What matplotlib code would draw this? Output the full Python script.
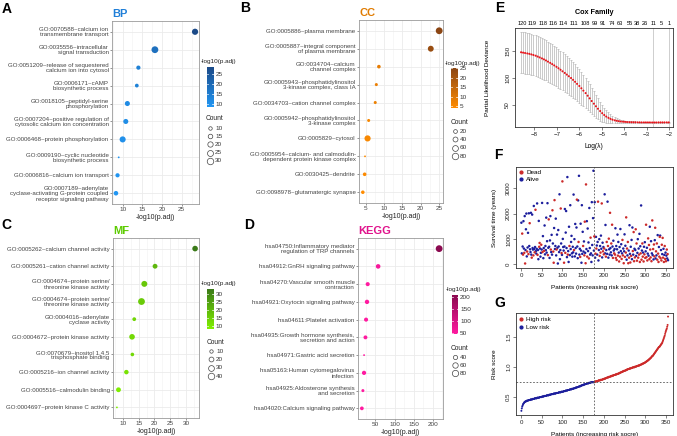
import numpy as np
import matplotlib
matplotlib.use("Agg")
import matplotlib.pyplot as plt
from matplotlib.colors import LinearSegmentedColormap, Normalize
from matplotlib.colorbar import ColorbarBase
from matplotlib.lines import Line2D

plt.rcParams['font.family'] = ['Liberation Sans', 'DejaVu Sans']

W, H = 677, 436

# ---------------- enrichment dot plots ----------------
bp_terms = [
    "GO:0070588~calcium ion\ntransmembrane transport",
    "GO:0035556~intracellular\nsignal transduction",
    "GO:0051209~release of sequestered\ncalcium ion into cytosol",
    "GO:0006171~cAMP\nbiosynthetic process",
    "GO:0018105~peptidyl-serine\nphosphorylation",
    "GO:0007204~positive regulation of\ncytosolic calcium ion concentration",
    "GO:0006468~protein phosphorylation",
    "GO:0009190~cyclic nucleotide\nbiosynthetic process",
    "GO:0006816~calcium ion transport",
    "GO:0007189~adenylate\ncyclase-activating G-protein coupled\nreceptor signaling pathway",
]
bp_logp = [28.4, 18.2, 14.0, 13.6, 11.2, 10.8, 10.0, 9.0, 8.7, 8.3]
bp_count = [27, 33, 13, 11, 18, 18, 26, 7, 13, 15]

cc_terms = [
    "GO:0005886~plasma membrane",
    "GO:0005887~integral component\nof plasma membrane",
    "GO:0034704~calcium\nchannel complex",
    "GO:0005943~phosphatidylinositol\n3-kinase complex, class IA",
    "GO:0034703~cation channel complex",
    "GO:0005942~phosphatidylinositol\n3-kinase complex",
    "GO:0005829~cytosol",
    "GO:0005954~calcium- and calmodulin-\ndependent protein kinase complex",
    "GO:0030425~dendrite",
    "GO:0098978~glutamatergic synapse",
]
cc_logp = [25.1, 22.8, 8.6, 7.9, 7.6, 5.8, 5.5, 4.8, 4.7, 4.2]
cc_count = [90, 62, 18, 12, 12, 12, 70, 7, 18, 17]

mf_terms = [
    "GO:0005262~calcium channel activity",
    "GO:0005261~cation channel activity",
    "GO:0004674~protein serine/\nthreonine kinase activity",
    "GO:0004674~protein serine/\nthreonine kinase activity",
    "GO:0004016~adenylate\ncyclase activity",
    "GO:0004672~protein kinase activity",
    "GO:0070679~inositol 1,4,5\ntrisphosphate binding",
    "GO:0005216~ion channel activity",
    "GO:0005516~calmodulin binding",
    "GO:0004697~protein kinase C activity",
]
mf_logp = [32.9, 20.2, 16.8, 15.9, 13.6, 12.9, 13.0, 11.1, 8.6, 8.1]
mf_count = [28, 20, 32, 44, 12, 28, 11, 17, 20, 6]

kegg_terms = [
    "hsa04750:Inflammatory mediator\nregulation of TRP channels",
    "hsa04912:GnRH signaling pathway",
    "hsa04270:Vascular smooth muscle\ncontraction",
    "hsa04921:Oxytocin signaling pathway",
    "hsa04611:Platelet activation",
    "hsa04935:Growth hormone synthesis,\nsecretion and action",
    "hsa04971:Gastric acid secretion",
    "hsa05163:Human cytomegalovirus\ninfection",
    "hsa04925:Aldosterone synthesis\nand secretion",
    "hsa04020:Calcium signaling pathway",
]
kegg_logp = [217, 57, 29.6, 27.8, 25.3, 23.7, 20.1, 20.0, 17.0, 14.3]
kegg_count = [92, 45, 38, 42, 38, 36, 24, 40, 28, 34]

# ---------------- LASSO cv curve ----------------
log_lambda = [-8.60, -8.51, -8.42, -8.32, -8.23, -8.14, -8.05, -7.95, -7.86, -7.77,
              -7.67, -7.58, -7.49, -7.40, -7.30, -7.21, -7.12, -7.02, -6.93, -6.84,
              -6.75, -6.65, -6.56, -6.47, -6.37, -6.28, -6.19, -6.10, -6.00, -5.91,
              -5.82, -5.72, -5.63, -5.54, -5.45, -5.35, -5.26, -5.17, -5.07, -4.98,
              -4.89, -4.80, -4.70, -4.61, -4.52, -4.42, -4.33, -4.24, -4.15, -4.05,
              -3.96, -3.87, -3.77, -3.68, -3.59, -3.50, -3.40, -3.31, -3.22, -3.12,
              -3.03, -2.94, -2.85, -2.75, -2.66, -2.57, -2.47, -2.38, -2.29, -2.20,
              -2.10, -2.01]
cv_dev = [147.0, 146.3, 145.6, 144.8, 144.0, 143.0, 141.9, 140.6, 139.0, 137.4,
          135.6, 133.8, 131.8, 129.6, 127.3, 125.0, 122.6, 120.0, 117.3, 114.5,
          111.6, 108.6, 105.6, 102.5, 99.2, 95.8, 92.2, 88.4, 84.4, 80.2,
          75.8, 71.2, 66.4, 61.5, 56.5, 51.6, 46.8, 42.2, 37.9, 34.0,
          30.6, 27.7, 25.3, 23.4, 21.9, 20.7, 19.8, 19.1, 18.5, 18.1,
          17.8, 17.5, 17.3, 17.2, 17.1, 17.0, 16.9, 16.9, 16.8, 16.8,
          16.8, 16.8, 16.8, 16.7, 16.7, 16.7, 16.8, 16.8, 16.8, 16.8,
          16.8, 16.8]
cv_se = [38.5, 38.4, 38.3, 38.2, 38.1, 38.0, 37.9, 37.8, 37.7, 37.6,
         37.5, 37.4, 37.2, 37.0, 36.8, 36.6, 36.4, 36.1, 35.8, 35.5,
         35.2, 34.8, 34.4, 34.0, 33.5, 33.0, 32.4, 31.8, 31.1, 30.3,
         29.4, 28.4, 27.3, 26.0, 24.6, 23.0, 21.3, 19.5, 17.6, 15.7,
         13.8, 11.9, 10.1, 8.5, 7.0, 5.7, 4.6, 3.8, 3.1, 2.6,
         2.3, 2.1, 1.9, 1.8, 1.7, 1.7, 1.6, 1.6, 1.6, 1.6,
         1.6, 1.6, 1.6, 1.6, 1.6, 1.6, 1.6, 1.6, 1.6, 1.6,
         1.6, 1.6]
nzero_pos = [-8.56, -8.10, -7.63, -7.16, -6.70, -6.22, -5.73, -5.29, -4.96,
             -4.56, -4.18, -3.76, -3.42, -3.07, -2.70, -2.33, -2.00]
nzero_lab = ["120", "119", "118", "116", "114", "111", "108", "99", "91",
             "74", "63", "55", "38", "26", "11", "5", "1"]
lambda_lines = [-2.70, -2.00]

# ---------------- survival status ----------------
surv_time = [
    1640, 430, 1210, 700, 380, 1700, 620, 450, 1900, 30, 560, 1380, 2000, 310, 500, 660, 1240, 400, 2010, 720, 1620, 590, 480, 2030, 380,
    260, 1960, 640, 580, 350, 2300, 600, 470, 680, 2150, 520, 420, 610, 2400, 370, 560, 200, 1710, 690, 840, 620, 300, 450, 770, 580,
    2420, 480, 1110, 240, 640, 530, 1530, 390, 720, 560, 1840, 460, 910, 2410, 360, 650, 1770, 690, 250, 940, 1900, 580, 480, 1160, 380,
    2130, 820, 500, 60, 1430, 2530, 600, 720, 1800, 350, 580, 1170, 650, 30, 1350, 700, 480, 2760, 200, 560, 2200, 820, 440, 370, 3270,
    1000, 680, 540, 60, 700, 2180, 450, 1250, 2100, 640, 280, 3440, 380, 520, 90, 1480, 720, 360, 2330, 600, 880, 1120, 430, 300, 690,
    470, 2750, 560, 990, 310, 1590, 640, 420, 1450, 2550, 700, 240, 2520, 880, 3490, 380, 610, 290, 1600, 540, 60, 2330, 410, 1280, 720,
    500, 900, 350, 1680, 450, 40, 3150, 600, 1700, 300, 1410, 520, 860, 230, 2220, 640, 380, 1050, 430, 90, 2450, 760, 350, 1820, 3690,
    540, 1100, 2450, 260, 420, 1080, 620, 740, 380, 880, 2470, 150, 560, 990, 330, 720, 460, 1130, 610, 2400, 270, 850, 510, 680, 390,
    620, 2760, 430, 1550, 300, 560, 880, 410, 2470, 720, 260, 1010, 590, 380, 2030, 640, 470, 820, 350, 1560, 700, 250, 930, 540, 430,
    600, 380, 1420, 250, 720, 170, 590, 1170, 340, 880, 460, 110, 680, 300, 1390, 520, 790, 210, 430, 960, 350, 620, 40, 510, 1180,
    290, 730, 460, 1850, 180, 620, 350, 880, 40, 540, 260, 1540, 410, 70, 690, 330, 960, 200, 1450, 520, 380, 1270, 120, 610, 270,
    560, 1380, 330, 820, 140, 450, 990, 260, 620, 380, 1200, 90, 710, 430, 2320, 180, 540, 820, 300, 460, 110, 690, 390, 870, 250,
    510, 1560, 280, 650, 150, 420, 1020, 340, 760, 200, 1480, 580, 270, 910, 120, 430, 1730, 360, 600, 190, 780, 310, 950, 1440, 230,
    510, 350, 820, 180, 1150, 420, 90, 680, 300, 1080, 1130, 240, 560, 150, 770, 400, 1040, 260, 610, 90, 370, 720, 210, 460, 120,
    340, 580, 230, 400, 160,
]
surv_status = (
    "AADADAADADAAAADAADAADAAAA" "DAAADAADADAAAADAAADDAAADA" "ADAAADAAAAAAAADADAAAADAAA"
    "DADDADAAAADAAAAAAAAADADAD" "AAADAADAAAAADAAADAAAAAAAA" "AADAAAAAADAAADAAADAAAAAAD"
    "AADDADDAADAAADAAADAAAAAAA" "ADAADADAAADAAADADAADAADAD" "DAAADADAADADAADAADADADAAD"
    "ADADADAADAADADAAADADDADAA" "DADDADADDADAADADAAADADDAD" "ADADDAADADADADADADDADADAD"
    "ADDADADADDADDADADADADDADA" "DADDADDADDADADDADDADADDAD" "ADADA"
)

# ---------------- risk score ----------------
risk_score = [
    0.26, 0.30, 0.33, 0.35, 0.37, 0.38, 0.39, 0.40, 0.41, 0.41,
    0.42, 0.42, 0.42, 0.43, 0.43, 0.43, 0.43, 0.44, 0.44, 0.44,
    0.44, 0.44, 0.45, 0.45, 0.45, 0.45, 0.45, 0.46, 0.46, 0.46,
    0.46, 0.46, 0.47, 0.47, 0.47, 0.47, 0.47, 0.47, 0.48, 0.48,
    0.48, 0.48, 0.48, 0.48, 0.49, 0.49, 0.49, 0.49, 0.49, 0.49,
    0.50, 0.50, 0.50, 0.50, 0.50, 0.51, 0.51, 0.51, 0.51, 0.51,
    0.51, 0.52, 0.52, 0.52, 0.52, 0.52, 0.52, 0.53, 0.53, 0.53,
    0.53, 0.53, 0.54, 0.54, 0.54, 0.54, 0.54, 0.54, 0.55, 0.55,
    0.55, 0.55, 0.55, 0.55, 0.56, 0.56, 0.56, 0.56, 0.56, 0.56,
    0.57, 0.57, 0.57, 0.57, 0.57, 0.57, 0.58, 0.58, 0.58, 0.58,
    0.58, 0.58, 0.59, 0.59, 0.59, 0.59, 0.59, 0.60, 0.60, 0.60,
    0.60, 0.60, 0.61, 0.61, 0.61, 0.61, 0.61, 0.62, 0.62, 0.62,
    0.62, 0.62, 0.63, 0.63, 0.63, 0.63, 0.63, 0.64, 0.64, 0.64,
    0.64, 0.65, 0.65, 0.65, 0.65, 0.66, 0.66, 0.66, 0.66, 0.67,
    0.67, 0.67, 0.67, 0.68, 0.68, 0.68, 0.69, 0.69, 0.69, 0.69,
    0.70, 0.70, 0.70, 0.70, 0.71, 0.71, 0.71, 0.71, 0.72, 0.72,
    0.72, 0.72, 0.72, 0.73, 0.73, 0.73, 0.73, 0.73, 0.74, 0.74,
    0.74, 0.74, 0.74, 0.74, 0.74, 0.74, 0.74,
    0.75, 0.75, 0.75, 0.75, 0.76, 0.76, 0.76, 0.76, 0.76, 0.77, 0.77, 0.77, 0.77,
    0.77, 0.78, 0.78, 0.78, 0.78, 0.78, 0.79, 0.79, 0.79, 0.79,
    0.80, 0.80, 0.80, 0.80, 0.81, 0.81, 0.81, 0.82, 0.82, 0.82,
    0.82, 0.83, 0.83, 0.83, 0.83, 0.84, 0.84, 0.84, 0.84, 0.85,
    0.85, 0.85, 0.85, 0.86, 0.86, 0.86, 0.86, 0.87, 0.87, 0.87,
    0.87, 0.88, 0.88, 0.88, 0.88, 0.89, 0.89, 0.89, 0.90, 0.90,
    0.90, 0.91, 0.91, 0.91, 0.92, 0.92, 0.92, 0.93, 0.93, 0.93,
    0.93, 0.94, 0.94, 0.94, 0.95, 0.95, 0.95, 0.96, 0.96, 0.96,
    0.96, 0.97, 0.97, 0.97, 0.97, 0.98, 0.98, 0.98, 0.98, 0.99,
    0.99, 0.99, 0.99, 0.99, 1.00, 1.00, 1.00, 1.00, 1.01, 1.01,
    1.01, 1.01, 1.02, 1.02, 1.02, 1.02, 1.03, 1.03, 1.03, 1.04,
    1.04, 1.04, 1.05, 1.05, 1.05, 1.06, 1.06, 1.06, 1.07, 1.07,
    1.08, 1.08, 1.09, 1.09, 1.10, 1.10, 1.11, 1.11, 1.12, 1.13,
    1.13, 1.14, 1.15, 1.15, 1.16, 1.17, 1.18, 1.18, 1.19, 1.20,
    1.21, 1.22, 1.23, 1.24, 1.25, 1.26, 1.27, 1.28, 1.29, 1.30,
    1.31, 1.32, 1.33, 1.33, 1.34, 1.35, 1.36, 1.37, 1.38, 1.39,
    1.40, 1.42, 1.44, 1.46, 1.48, 1.50, 1.52, 1.55, 1.58, 1.60,
    1.62, 1.64, 1.67, 1.70, 1.84,
]
n_low = 177
risk_cut = 0.745

RED = "#CC2A2A"
BLUE = "#1C1E9C"

fig = plt.figure(figsize=(W / 100, H / 100), dpi=100)


def rect(x0, y0, x1, y1):
    return [x0 / W, 1 - y1 / H, (x1 - x0) / W, (y1 - y0) / H]


def ftext(x, y, s, **kw):
    fig.text(x / W, 1 - y / H, s, **kw)


def dot_panel(box, cbox, legpos, terms, xvals, counts, low, high, crange,
              xticks, cticks, breaks, title, tcolor):
    ax = fig.add_axes(rect(*box))
    n = len(terms)
    ypos = np.arange(n)[::-1]
    cmap = LinearSegmentedColormap.from_list(title, [low, high])
    norm = Normalize(crange[0], crange[1], clip=True)
    cmin, cmax = min(counts), max(counts)

    def diam(c):
        return 1.3 + 3.6 * np.sqrt((c - cmin) / (cmax - cmin))

    ax.scatter(xvals, ypos, s=[diam(c) ** 2 for c in counts],
               c=cmap(norm(np.array(xvals))), edgecolors='none', zorder=3)
    lo, hi = min(xvals), max(xvals)
    pad = 0.05 * (hi - lo)
    ax.set_xlim(lo - pad, hi + pad)
    ax.set_ylim(-0.6, n - 0.4)
    ax.set_yticks(ypos)
    ax.set_yticklabels(terms, fontsize=4.4, linespacing=1.05, color='#222222')
    ax.set_xticks(xticks)
    step = xticks[1] - xticks[0]
    minor = [xticks[0] - step / 2] + [t + step / 2 for t in xticks]
    ax.set_xticks([m for m in minor if lo - pad < m < hi + pad], minor=True)
    ax.tick_params(axis='x', labelsize=4.6, length=1.5, width=0.4, pad=1,
                   colors='#444444')
    ax.tick_params(axis='y', length=1.5, width=0.4, pad=1, colors='#444444')
    ax.tick_params(which='minor', length=0)
    ax.grid(True, which='major', color='#EBEBEB', lw=0.6)
    ax.grid(True, which='minor', axis='x', color='#F2F2F2', lw=0.4)
    ax.set_axisbelow(True)
    for sp in ax.spines.values():
        sp.set_color('#9A9A9A')
        sp.set_linewidth(0.6)
    ax.set_xlabel("-log10(p.adj)", fontsize=5, labelpad=1, color='#222222')
    ftext(box[0], box[1] - 7, title, fontsize=8, fontweight='bold',
          color=tcolor, va='center', ha='left')

    # colour bar
    cax = fig.add_axes(rect(*cbox))
    cb = ColorbarBase(cax, cmap=cmap, norm=norm)
    cb.outline.set_visible(False)
    cb.set_ticks(cticks)
    cax.tick_params(length=0, labelsize=4.6, pad=1.5, colors='#333333')
    for t in cticks:
        cax.plot([0, 0.2], [t, t], color='white', lw=0.5)
        cax.plot([0.8, 1], [t, t], color='white', lw=0.5)
    ftext(cbox[0] - 6, cbox[1] - 5, "-log10(p.adj)", fontsize=4.6,
          va='center', ha='left', color='#222222')

    # size legend
    lx, ly, dy = legpos
    ftext(lx, ly, "Count", fontsize=4.8, va='center', ha='left', color='#222222')
    for i, b in enumerate(breaks):
        yy = ly + 9 + i * dy
        fig.add_artist(Line2D([(lx + 3.5) / W], [1 - yy / H], marker='o',
                              ms=diam(b), mfc='none', mec='#444444', mew=0.5,
                              ls='', transform=fig.transFigure))
        ftext(lx + 9, yy, str(b), fontsize=4.6, va='center', ha='left',
              color='#333333')
    return ax


dot_panel((112, 21, 199, 204), (207, 67, 213.5, 107), (206, 119, 8.2),
          bp_terms, bp_logp, bp_count, "#2196F3", "#1B4A88", (8.3, 28.4),
          [10, 15, 20, 25], [10, 15, 20, 25], [10, 15, 20, 25, 30],
          "BP", "#1F7FD8")
dot_panel((359, 20, 443, 203), (451, 68, 457.5, 108), (451, 122, 8.4),
          cc_terms, cc_logp, cc_count, "#FF8C00", "#8B4513", (4.2, 25.1),
          [5, 10, 15, 20, 25], [5, 10, 15, 20, 25], [20, 40, 60, 80],
          "CC", "#E07B00")
dot_panel((113, 238, 199, 418), (207, 289, 213.5, 329), (207, 342, 8.4),
          mf_terms, mf_logp, mf_count, "#80F000", "#3A7A18", (8.1, 32.9),
          [10, 15, 20, 25, 30], [10, 15, 20, 25, 30], [10, 20, 30, 40],
          "MF", "#5CCB00")
dot_panel((358, 238, 443, 419), (451.5, 295, 458, 334), (451, 348, 8.2),
          kegg_terms, kegg_logp, kegg_count, "#FF1AA0", "#8B0A50", (46, 210),
          [50, 100, 150, 200], [50, 100, 150, 200], [40, 60, 80],
          "KEGG", "#E0138C")


def base_style(ax):
    for sp in ax.spines.values():
        sp.set_color('#333333')
        sp.set_linewidth(0.6)
    ax.tick_params(labelsize=4.4, length=2, width=0.4, pad=1.5, colors='#222222')
    for lab in ax.get_yticklabels():
        lab.set_rotation(90)
        lab.set_va('center')


# ---------------- E ----------------
axE = fig.add_axes(rect(515, 28, 673, 127))
axE.errorbar(log_lambda, cv_dev, yerr=cv_se, fmt='none', ecolor='#B5B5B5',
             elinewidth=0.5, capsize=0.8, capthick=0.5, zorder=1)
axE.scatter(log_lambda, cv_dev, s=2.2, color='#E8141B', edgecolors='none', zorder=3)
for v in lambda_lines:
    axE.axvline(v, color='#BBBBBB', lw=0.5, zorder=0)
axE.set_xlim(-8.87, -1.82)
axE.set_ylim(8.3, 192)
axE.set_xticks([-8, -7, -6, -5, -4, -3, -2])
axE.set_yticks([50, 100, 150])
base_style(axE)
axE.set_ylabel("Partial Likelihood Deviance", fontsize=4.6)
axE.yaxis.set_label_coords(-0.16, 0.5)
axE.set_xlabel("Log(λ)", fontsize=4.8)
axE.xaxis.set_label_coords(0.5, -0.16)
axT = axE.twiny()
axT.set_xlim(axE.get_xlim())
axT.set_xticks(nzero_pos)
axT.set_xticklabels(nzero_lab, fontsize=4.1)
axT.tick_params(length=0, pad=1.5)
for sp in axT.spines.values():
    sp.set_visible(False)
ftext(594, 13, "Cox Family", fontsize=5.2, fontweight='bold', ha='center', va='center')

# ---------------- F ----------------
axF = fig.add_axes(rect(516, 167, 673, 268))
pid = np.arange(1, len(surv_time) + 1)
dead = np.array([c == 'D' for c in surv_status])
st = np.array(surv_time)
axF.scatter(pid[~dead], st[~dead], s=3.2, color=BLUE, edgecolors='none', zorder=2)
axF.scatter(pid[dead], st[dead], s=3.2, color=RED, edgecolors='none', zorder=3)
axF.axvline(n_low, color='#555555', lw=0.6, ls=(0, (2, 2)))
axF.set_xlim(-12, 367)
axF.set_ylim(-148, 3838)
axF.set_xticks(range(0, 351, 50))
axF.set_yticks([0, 1000, 2000, 3000])
base_style(axF)
axF.set_ylabel("Survival time (years)", fontsize=4.6)
axF.yaxis.set_label_coords(-0.12, 0.5)
axF.set_xlabel("Patients (increasing risk socre)", fontsize=4.6)
axF.xaxis.set_label_coords(0.5, -0.17)
for yy, lab, col in [(0.95, "Dead", RED), (0.88, "Alive", BLUE)]:
    axF.scatter([0.035], [yy], s=4, color=col, transform=axF.transAxes, clip_on=False)
    axF.text(0.065, yy, lab, fontsize=4.6, va='center', transform=axF.transAxes)

# ---------------- G ----------------
axG = fig.add_axes(rect(516, 313, 673, 415))
rid = np.arange(1, len(risk_score) + 1)
rs = np.array(risk_score)
axG.scatter(rid[:n_low], rs[:n_low], s=2.0, color=BLUE, edgecolors='none')
axG.scatter(rid[n_low:], rs[n_low:], s=2.0, color=RED, edgecolors='none')
axG.axvline(n_low, color='#555555', lw=0.6, ls=(0, (2, 2)))
axG.axhline(risk_cut, color='#555555', lw=0.6, ls=(0, (2, 2)))
axG.set_xlim(-12, 367)
axG.set_ylim(0.19, 1.90)
axG.set_xticks(range(0, 351, 50))
axG.set_yticks([0.5, 1.0, 1.5])
base_style(axG)
axG.set_ylabel("Risk score", fontsize=4.6)
axG.yaxis.set_label_coords(-0.12, 0.5)
axG.set_xlabel("Patients (increasing risk socre)", fontsize=4.6)
axG.xaxis.set_label_coords(0.5, -0.17)
for yy, lab, col in [(0.94, "High risk", RED), (0.86, "Low risk", BLUE)]:
    axG.scatter([0.035], [yy], s=4, color=col, transform=axG.transAxes, clip_on=False)
    axG.text(0.065, yy, lab, fontsize=4.6, va='center', transform=axG.transAxes)

# panel letters
for x, y, s in [(7, 9, "A"), (245, 8, "B"), (6, 225, "C"), (249, 225, "D"),
                (500, 8, "E"), (498, 155, "F"), (500, 303, "G")]:
    ftext(x, y, s, fontsize=10, fontweight='bold', ha='center', va='center')

fig.savefig("out.png", dpi=100)
